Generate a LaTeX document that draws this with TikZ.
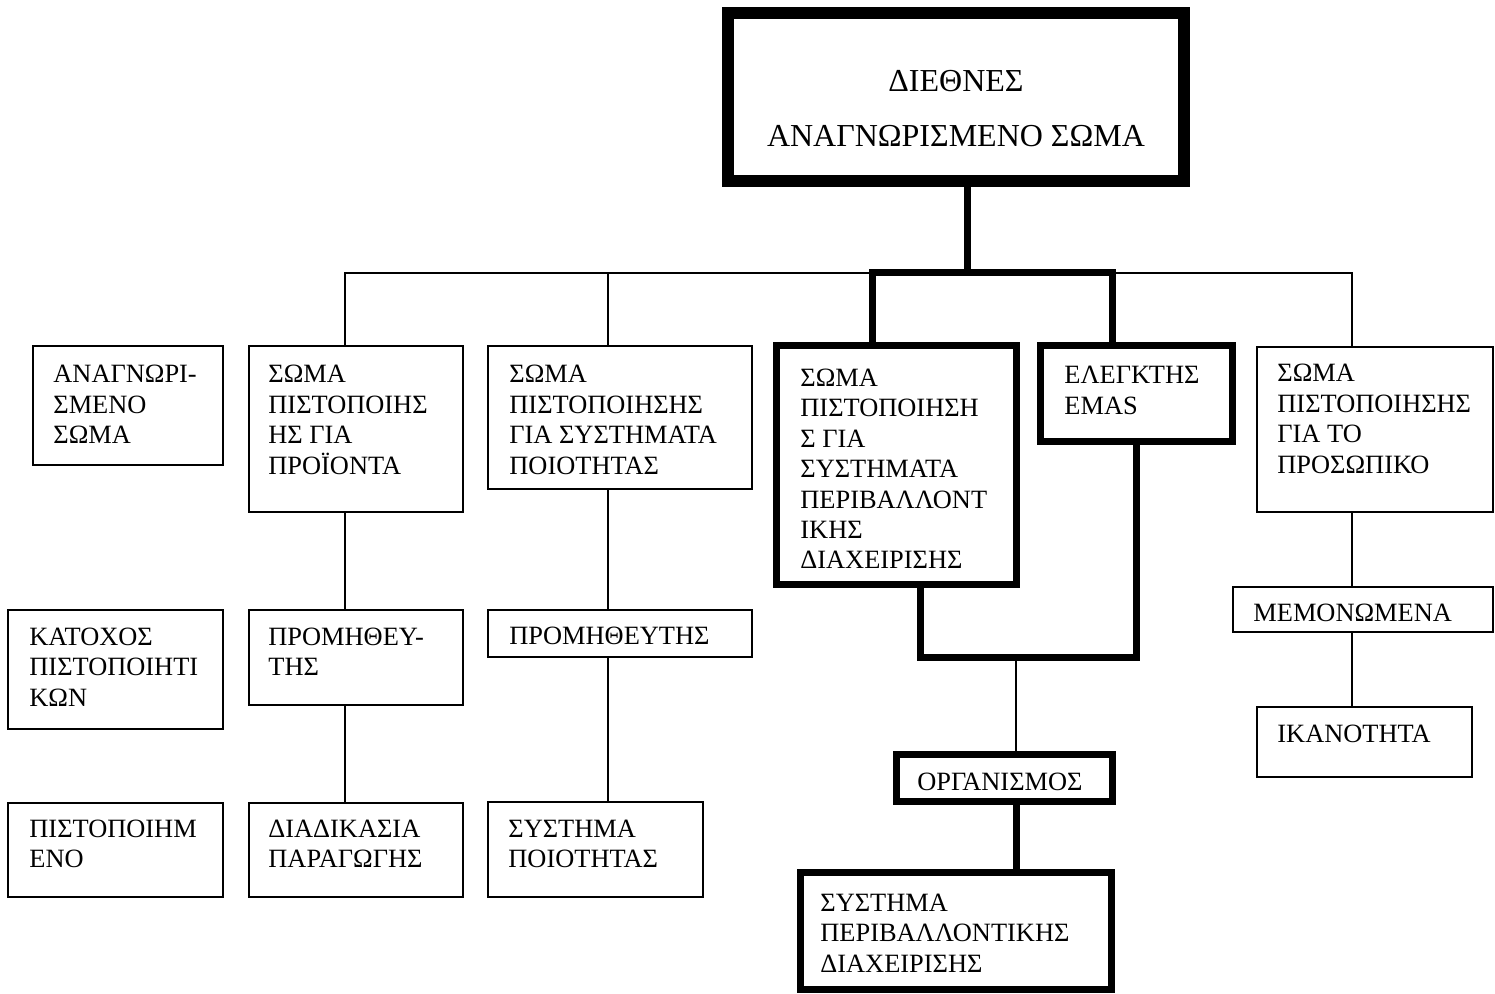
\documentclass[tikz,border=0pt]{standalone}
\usepackage{fontspec}
\setmainfont{Liberation Serif}
\begin{document}
\begin{tikzpicture}[x=0.5pt,y=-0.5pt,
  thinbox/.style={draw,rectangle,inner sep=0pt,line width=1pt},
  thickbox/.style={draw,rectangle,inner sep=0pt,line width=3.5pt},
  topbox/.style={draw,rectangle,inner sep=0pt,line width=6pt},
  thinline/.style={line width=1pt,line join=miter},
  thickline/.style={line width=3.5pt,line join=miter},
  % multi-line labels sit on the baseline of their last line
  label/.style={anchor=base west,inner sep=0pt,align=left,
    font=\fontsize{13.2pt}{15.25pt}\selectfont},
  toplabel/.style={anchor=base,inner sep=0pt,align=center,
    font=\fontsize{16pt}{27.5pt}\selectfont}]
\useasboundingbox (0,0) rectangle (1495,994);

% boxes
\node[topbox,minimum width=228pt,minimum height=84pt] (top) at (956,97) {};
\node[thinbox,minimum width=95pt,minimum height=59.5pt] (a1) at (128,405.5) {};
\node[thinbox,minimum width=107pt,minimum height=83pt] (b1) at (356,429) {};
\node[thinbox,minimum width=132pt,minimum height=71.5pt] (c1) at (620,417.5) {};
\node[thickbox,minimum width=120pt,minimum height=119.5pt] (d1) at (896.5,465) {};
\node[thickbox,minimum width=96pt,minimum height=48pt] (e1) at (1136.5,393.5) {};
\node[thinbox,minimum width=118pt,minimum height=82.5pt] (f1) at (1375,429.5) {};
\node[thinbox,minimum width=130pt,minimum height=22.5pt] (f2) at (1363,609.5) {};
\node[thinbox,minimum width=107.5pt,minimum height=35pt] (f3) at (1364.5,742) {};
\node[thinbox,minimum width=107.5pt,minimum height=59.5pt] (a2) at (115.5,669.5) {};
\node[thinbox,minimum width=107pt,minimum height=47.5pt] (b2) at (356,657.5) {};
\node[thinbox,minimum width=132pt,minimum height=23.5pt] (c2) at (620,633.5) {};
\node[thinbox,minimum width=107.5pt,minimum height=47pt] (a3) at (115.5,850) {};
\node[thinbox,minimum width=107pt,minimum height=47pt] (b3) at (356,850) {};
\node[thinbox,minimum width=107.5pt,minimum height=47.5pt] (c3) at (595.5,849.5) {};
\node[thickbox,minimum width=108pt,minimum height=23.5pt] (org) at (1004.5,778) {};
\node[thickbox,minimum width=155.5pt,minimum height=58.5pt] (spd) at (956,931) {};

% texts
\node[toplabel] (topt) at (956,147) {ΔΙΕΘΝΕΣ\\ΑΝΑΓΝΩΡΙΣΜΕΝΟ ΣΩΜΑ};
\node[label] (a1t) at (53,444) {ΑΝΑΓΝΩΡΙ-\\ΣΜΕΝΟ\\ΣΩΜΑ};
\node[label] (b1t) at (268,474.5) {ΣΩΜΑ\\ΠΙΣΤΟΠΟΙΗΣ\\ΗΣ ΓΙΑ\\ΠΡΟΪΟΝΤΑ};
\node[label] (c1t) at (509,474.5) {ΣΩΜΑ\\ΠΙΣΤΟΠΟΙΗΣΗΣ\\ΓΙΑ ΣΥΣΤΗΜΑΤΑ\\ΠΟΙΟΤΗΤΑΣ};
\node[label] (d1t) at (800,569) {ΣΩΜΑ\\ΠΙΣΤΟΠΟΙΗΣΗ\\Σ ΓΙΑ\\ΣΥΣΤΗΜΑΤΑ\\ΠΕΡΙΒΑΛΛΟΝΤ\\ΙΚΗΣ\\ΔΙΑΧΕΙΡΙΣΗΣ};
\node[label] (e1t) at (1064,414.5) {ΕΛΕΓΚΤΗΣ\\EMAS};
\node[label] (f1t) at (1277,473.5) {ΣΩΜΑ\\ΠΙΣΤΟΠΟΙΗΣΗΣ\\ΓΙΑ ΤΟ\\ΠΡΟΣΩΠΙΚΟ};
\node[label] (f2t) at (1253,622) {ΜΕΜΟΝΩΜΕΝΑ};
\node[label] (f3t) at (1277,742) {ΙΚΑΝΟΤΗΤΑ};
\node[label] (a2t) at (29,706) {ΚΑΤΟΧΟΣ\\ΠΙΣΤΟΠΟΙΗΤΙ\\ΚΩΝ};
\node[label] (b2t) at (268,675.5) {ΠΡΟΜΗΘΕΥ-\\ΤΗΣ};
\node[label] (c2t) at (509,645) {ΠΡΟΜΗΘΕΥΤΗΣ};
\node[label] (a3t) at (29,867.5) {ΠΙΣΤΟΠΟΙΗΜ\\ΕΝΟ};
\node[label] (b3t) at (268,867.5) {ΔΙΑΔΙΚΑΣΙΑ\\ΠΑΡΑΓΩΓΗΣ};
\node[label] (c3t) at (508,867.5) {ΣΥΣΤΗΜΑ\\ΠΟΙΟΤΗΤΑΣ};
\node[label] (orgt) at (917,790) {ΟΡΓΑΝΙΣΜΟΣ};
\node[label] (spdt) at (820,972) {ΣΥΣΤΗΜΑ\\ΠΕΡΙΒΑΛΛΟΝΤΙΚΗΣ\\ΔΙΑΧΕΙΡΙΣΗΣ};

% junction points
\coordinate (jB) at (345,273);
\coordinate (jC) at (608,273);
\coordinate (jF) at (1352,273);
\coordinate (jS) at (967,273);
\coordinate (jL) at (872,273);
\coordinate (jR) at (1112,273);
\coordinate (kL) at (920,657);
\coordinate (kR) at (1136,657);
\coordinate (kM) at (1016,657);

% thin tree
\draw[thinline] (b1.north -| jB) -- (jB) -- (jF) -- (f1.north -| jF);
\draw[thinline] (jC) -- (c1.north -| jC);
\draw[thinline] (b1.south -| jB) -- (b2.north -| jB);
\draw[thinline] (b2.south -| jB) -- (b3.north -| jB);
\draw[thinline] (c1.south -| jC) -- (c2.north -| jC);
\draw[thinline] (c2.south -| jC) -- (c3.north -| jC);
\draw[thinline] (f1.south -| jF) -- (f2.north -| jF);
\draw[thinline] (f2.south -| jF) -- (f3.north -| jF);
\draw[thinline] (kM) -- (org.north -| kM);

% thick paths
\draw[thickline] (top.south -| jS) -- (jS);
\draw[thickline] (d1.north -| jL) -- (jL) -- (jR) -- (e1.north -| jR);
\draw[thickline] (d1.south -| kL) -- (kL) -- (kR) -- (e1.south -| kR);
\draw[thickline] (org.south -| kM) -- (spd.north -| kM);
\end{tikzpicture}
\end{document}
